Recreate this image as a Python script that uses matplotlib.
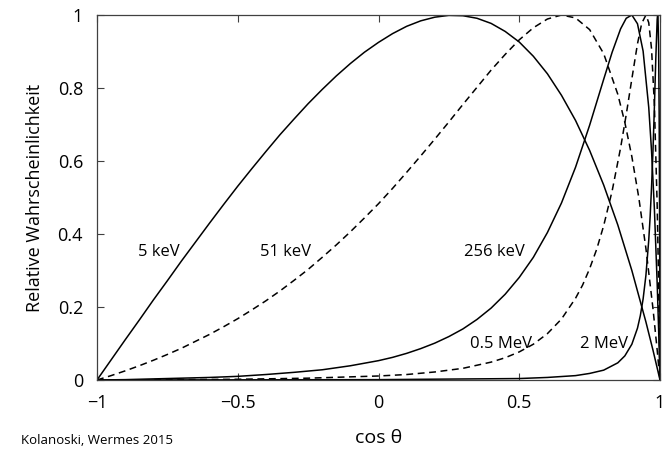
import matplotlib
matplotlib.use('Agg')
import matplotlib.pyplot as plt

plt.rcParams['font.family'] = ['Open Sans', 'DejaVu Sans']

# 5 keV
x_5kev = [-1, -0.95, -0.9, -0.85, -0.8, -0.75, -0.7, -0.65, -0.6, -0.55, -0.5, -0.45,
          -0.4, -0.35, -0.3, -0.25, -0.2, -0.15, -0.1, -0.05, 0, 0.05, 0.1, 0.15, 0.2,
          0.25, 0.3, 0.35, 0.4, 0.45, 0.5, 0.55, 0.6, 0.65, 0.7, 0.75, 0.8, 0.85, 0.9,
          0.95, 0.975, 1]
y_5kev = [0, 0.055, 0.110, 0.164, 0.219, 0.272, 0.326, 0.378, 0.430, 0.481, 0.531, 0.579,
          0.626, 0.672, 0.715, 0.757, 0.796, 0.833, 0.867, 0.898, 0.925, 0.949, 0.969,
          0.984, 0.994, 0.999, 0.998, 0.991, 0.977, 0.955, 0.926, 0.887, 0.839, 0.780,
          0.711, 0.629, 0.534, 0.425, 0.300, 0.159, 0.082, 0]

# 51 keV
x_51kev = [-1, -0.95, -0.9, -0.85, -0.8, -0.75, -0.7, -0.65, -0.6, -0.55, -0.5, -0.45,
           -0.4, -0.35, -0.3, -0.25, -0.2, -0.15, -0.1, -0.05, 0, 0.05, 0.1, 0.15, 0.2,
           0.25, 0.3, 0.35, 0.4, 0.45, 0.5, 0.55, 0.6, 0.65, 0.7, 0.75, 0.8, 0.85, 0.875,
           0.9, 0.925, 0.95, 0.975, 0.99, 1]
y_51kev = [0, 0.012, 0.025, 0.039, 0.054, 0.070, 0.087, 0.106, 0.125, 0.146, 0.168, 0.192,
           0.217, 0.244, 0.273, 0.303, 0.336, 0.370, 0.406, 0.444, 0.483, 0.525, 0.569,
           0.614, 0.660, 0.707, 0.755, 0.802, 0.849, 0.892, 0.932, 0.965, 0.989, 1.0,
           0.992, 0.960, 0.894, 0.783, 0.706, 0.612, 0.498, 0.360, 0.196, 0.082, 0]

# 256 keV
x_256kev = [-1, -0.9, -0.8, -0.7, -0.6, -0.5, -0.4, -0.3, -0.2, -0.1, 0, 0.05, 0.1, 0.15,
            0.2, 0.25, 0.3, 0.35, 0.4, 0.45, 0.5, 0.55, 0.6, 0.65, 0.7, 0.75, 0.8, 0.83,
            0.86, 0.88, 0.9, 0.92, 0.94, 0.96, 0.97, 0.98, 0.99, 0.995, 1]
y_256kev = [0, 0.001, 0.003, 0.005, 0.007, 0.010, 0.015, 0.021, 0.028, 0.039, 0.053,
            0.062, 0.073, 0.086, 0.101, 0.119, 0.140, 0.166, 0.197, 0.235, 0.281, 0.336,
            0.404, 0.485, 0.583, 0.698, 0.824, 0.898, 0.962, 0.991, 1.0, 0.976, 0.901,
            0.747, 0.627, 0.470, 0.264, 0.141, 0]

# 0.5 MeV
x_05mev = [-1, -0.5, -0.25, 0, 0.1, 0.2, 0.3, 0.4, 0.45, 0.5, 0.55, 0.6, 0.65, 0.7, 0.725,
           0.75, 0.775, 0.8, 0.83, 0.86, 0.88, 0.9, 0.92, 0.935, 0.95, 0.96, 0.97, 0.98,
           0.99, 0.995, 1]
y_05mev = [0, 0.002, 0.005, 0.011, 0.015, 0.022, 0.032, 0.049, 0.061, 0.077, 0.098, 0.127,
           0.167, 0.224, 0.260, 0.305, 0.358, 0.423, 0.518, 0.636, 0.727, 0.825, 0.921,
           0.977, 1.0, 0.979, 0.907, 0.755, 0.478, 0.270, 0]

# 2 MeV
x_2mev = [-1, 0, 0.5, 0.6, 0.7, 0.75, 0.8, 0.85, 0.875, 0.9, 0.92, 0.93, 0.94, 0.95,
          0.96, 0.965, 0.97, 0.975, 0.98, 0.985, 0.99, 0.9915, 0.993, 0.995, 0.997,
          0.998, 0.999, 1]
y_2mev = [0, 0.001, 0.004, 0.007, 0.012, 0.018, 0.027, 0.047, 0.066, 0.098, 0.142, 0.176,
          0.222, 0.287, 0.383, 0.448, 0.529, 0.627, 0.746, 0.879, 0.988, 1.0, 0.990,
          0.919, 0.733, 0.568, 0.333, 0]

labels = ['5 keV', '51 keV', '256 keV', '0.5 MeV', '2 MeV']
label_x = [-0.78, -0.33, 0.41, 0.435, 0.80]
label_y = [0.35, 0.35, 0.35, 0.10, 0.10]

fig = plt.figure(figsize=(6.64, 4.5), dpi=100)
ax = fig.add_axes([97 / 664, 70 / 450, 563 / 664, 365 / 450])

ax.plot(x_5kev, y_5kev, color='k', lw=1.1)
ax.plot(x_51kev, y_51kev, color='k', lw=1.1, dashes=(4.5, 3))
ax.plot(x_256kev, y_256kev, color='k', lw=1.1)
ax.plot(x_05mev, y_05mev, color='k', lw=1.1, dashes=(4.5, 3))
ax.plot(x_2mev, y_2mev, color='k', lw=1.1)

for t, tx, ty in zip(labels, label_x, label_y):
    ax.text(tx, ty, t, fontsize=12, ha='center', va='center')

ax.set_xlim(-1, 1)
ax.set_ylim(0, 1)
ax.set_xticks([-1, -0.5, 0, 0.5, 1])
ax.set_xticklabels(['\u22121', '\u22120.5', '0', '0.5', '1'])
ax.set_yticks([0, 0.2, 0.4, 0.6, 0.8, 1])
ax.set_yticklabels(['0', '0.2', '0.4', '0.6', '0.8', '1'])
ax.tick_params(direction='in', length=5, width=0.8, top=True, right=True,
               labelsize=13, pad=10, color='0.25')
for s in ax.spines.values():
    s.set_linewidth(0.9)
    s.set_color('0.25')

ax.set_xlabel('cos \u03b8', fontsize=14, labelpad=12)
ax.set_ylabel('Relative Wahrscheinlichkeit', fontsize=13, labelpad=10)
fig.text(21 / 664, 1 - 441 / 450, 'Kolanoski, Wermes 2015', fontsize=9.5, va='center')

fig.savefig('out.png', dpi=100)
